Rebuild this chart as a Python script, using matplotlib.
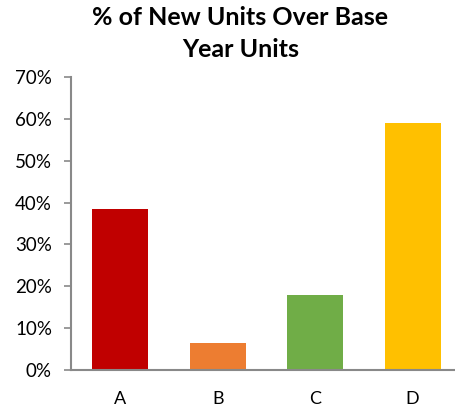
import matplotlib.pyplot as plt
from matplotlib.ticker import PercentFormatter

plt.rcParams['font.family'] = ['Lato', 'DejaVu Sans']

# Data
categories = ['A', 'B', 'C', 'D']
pct_new_units = [0.385, 0.065, 0.179, 0.591]
bar_colors = ['#C00000', '#ED7D31', '#70AD47', '#FFC000']

fig = plt.figure(figsize=(4.55, 4.09), dpi=100)
ax = fig.add_axes([0.157, 0.095, 0.857, 0.717])

ax.bar(categories, pct_new_units, color=bar_colors, width=0.575)

ax.set_ylim(0, 0.7)
ax.set_xlim(-0.5, 3.5)
ax.set_yticks([i / 10 for i in range(8)])
ax.yaxis.set_major_formatter(PercentFormatter(1.0, decimals=0))

for side in ['top', 'right']:
    ax.spines[side].set_visible(False)
for side in ['left', 'bottom']:
    ax.spines[side].set_color('#898989')
    ax.spines[side].set_linewidth(1.5)

ax.tick_params(axis='y', length=5, width=1.2, color='#898989', labelsize=13.5, pad=9)
ax.tick_params(axis='x', length=0, labelsize=13, pad=15)

fig.text(0.528, 0.985, '% of New Units Over Base\nYear Units', fontsize=18, fontweight='bold',
         ha='center', va='top', linespacing=1.45)

fig.savefig('out.png', dpi=100)
